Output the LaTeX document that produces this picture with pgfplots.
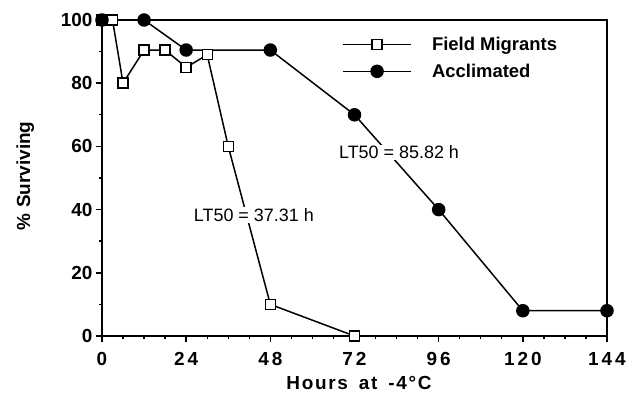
\documentclass[border=0pt]{standalone}
\usepackage{pgfplots}
\pgfplotsset{compat=1.18}
\usepackage{fontspec}
\setmainfont{Liberation Sans}
\newfontface\hbold{Liberation Sans Bold}
\newfontface\hboldwide[LetterSpace=9]{Liberation Sans Bold}
\newcommand{\dsp}{\hspace{3bp}}
\begin{document}
\begin{tikzpicture}
\begin{axis}[
  scale only axis,
  width=505bp, height=316bp,
  xmin=0, xmax=144, ymin=0, ymax=100,
  axis line style={line width=1.8bp},
  xtick={0,24,48,72,96,120,144},
  xticklabels={0, 2\dsp4, 4\dsp8, 7\dsp2, 9\dsp6, 1\dsp2\dsp0, 1\dsp4\dsp4},
  minor xtick={6,12,18,30,36,42,54,60,66,78,84,90,102,108,114,126,132,138},
  ytick={0,20,40,60,80,100},
  minor ytick={10,30,50,70,90},
  tick align=outside,
  xtick pos=bottom, ytick pos=left,
  major tick length=6bp, minor tick length=3bp,
  every tick/.style={black, line width=1.4bp},
  /pgf/number format/assume math mode=true,
  tick label style={font=\fontsize{19}{21}\hbold},
  xticklabel style={yshift=-7bp},
  xlabel={Hours\hspace{4bp} at\hspace{4bp} -4°C},
  ylabel={\%\hspace{6bp}Surviving},
  xlabel style={font=\fontsize{19}{21}\hboldwide, at={(axis description cs:0.509,0)}, anchor=center, yshift=-47bp},
  ylabel style={font=\fontsize{19}{21}\hbold, at={(axis description cs:-0.152,0.506)}, anchor=center},
  legend style={draw=none, fill=none, at={(axis description cs:0.477,0.953)}, anchor=north west,
    font=\fontsize{18.5}{20}\hbold, row sep=8bp, inner sep=0bp, nodes={inner sep=2bp}},
  legend cell align=left,
  legend image code/.code={
    \pgfpathrectangle{\pgfpoint{0bp}{-5bp}}{\pgfpoint{87bp}{10bp}}\pgfusepath{use as bounding box}
    \draw[line width=1.5bp] (0cm,0cm) -- (68bp,0cm);
    \draw[#1, mark repeat=2, mark phase=2] plot coordinates {(0cm,0cm) (34bp,0cm) (68bp,0cm)};
  },
  clip=false,
]
\addplot[black, line width=1.5bp, mark=square*, mark options={fill=white, line width=1.4bp}, mark size=5bp]
  coordinates {(0,100) (3,100) (6,80) (12,90.5) (18,90.5) (24,85) (30,89) (36,60) (48,10) (72,0)};
\addlegendentry{Field Migrants}
\addplot[black, line width=1.5bp, mark=*, mark options={fill=black}, mark size=6bp]
  coordinates {(0,100) (12,100) (24,90.5) (48,90.5) (72,70) (96,40) (120,8) (144,8)};
\addlegendentry{Acclimated}
\node[fill=white, inner sep=1bp, font=\fontsize{18}{20}\selectfont] at (axis cs:43.3,38.3) {LT50 = 37.31 h};
\node[fill=white, inner sep=1bp, font=\fontsize{18}{20}\selectfont] at (axis cs:84.7,58.2) {LT50 = 85.82 h};
\end{axis}
\pgfresetboundingbox
\path (current axis.south west) ++(-102bp,-58bp) rectangle ++(639bp,394bp);
\end{tikzpicture}
\end{document}
